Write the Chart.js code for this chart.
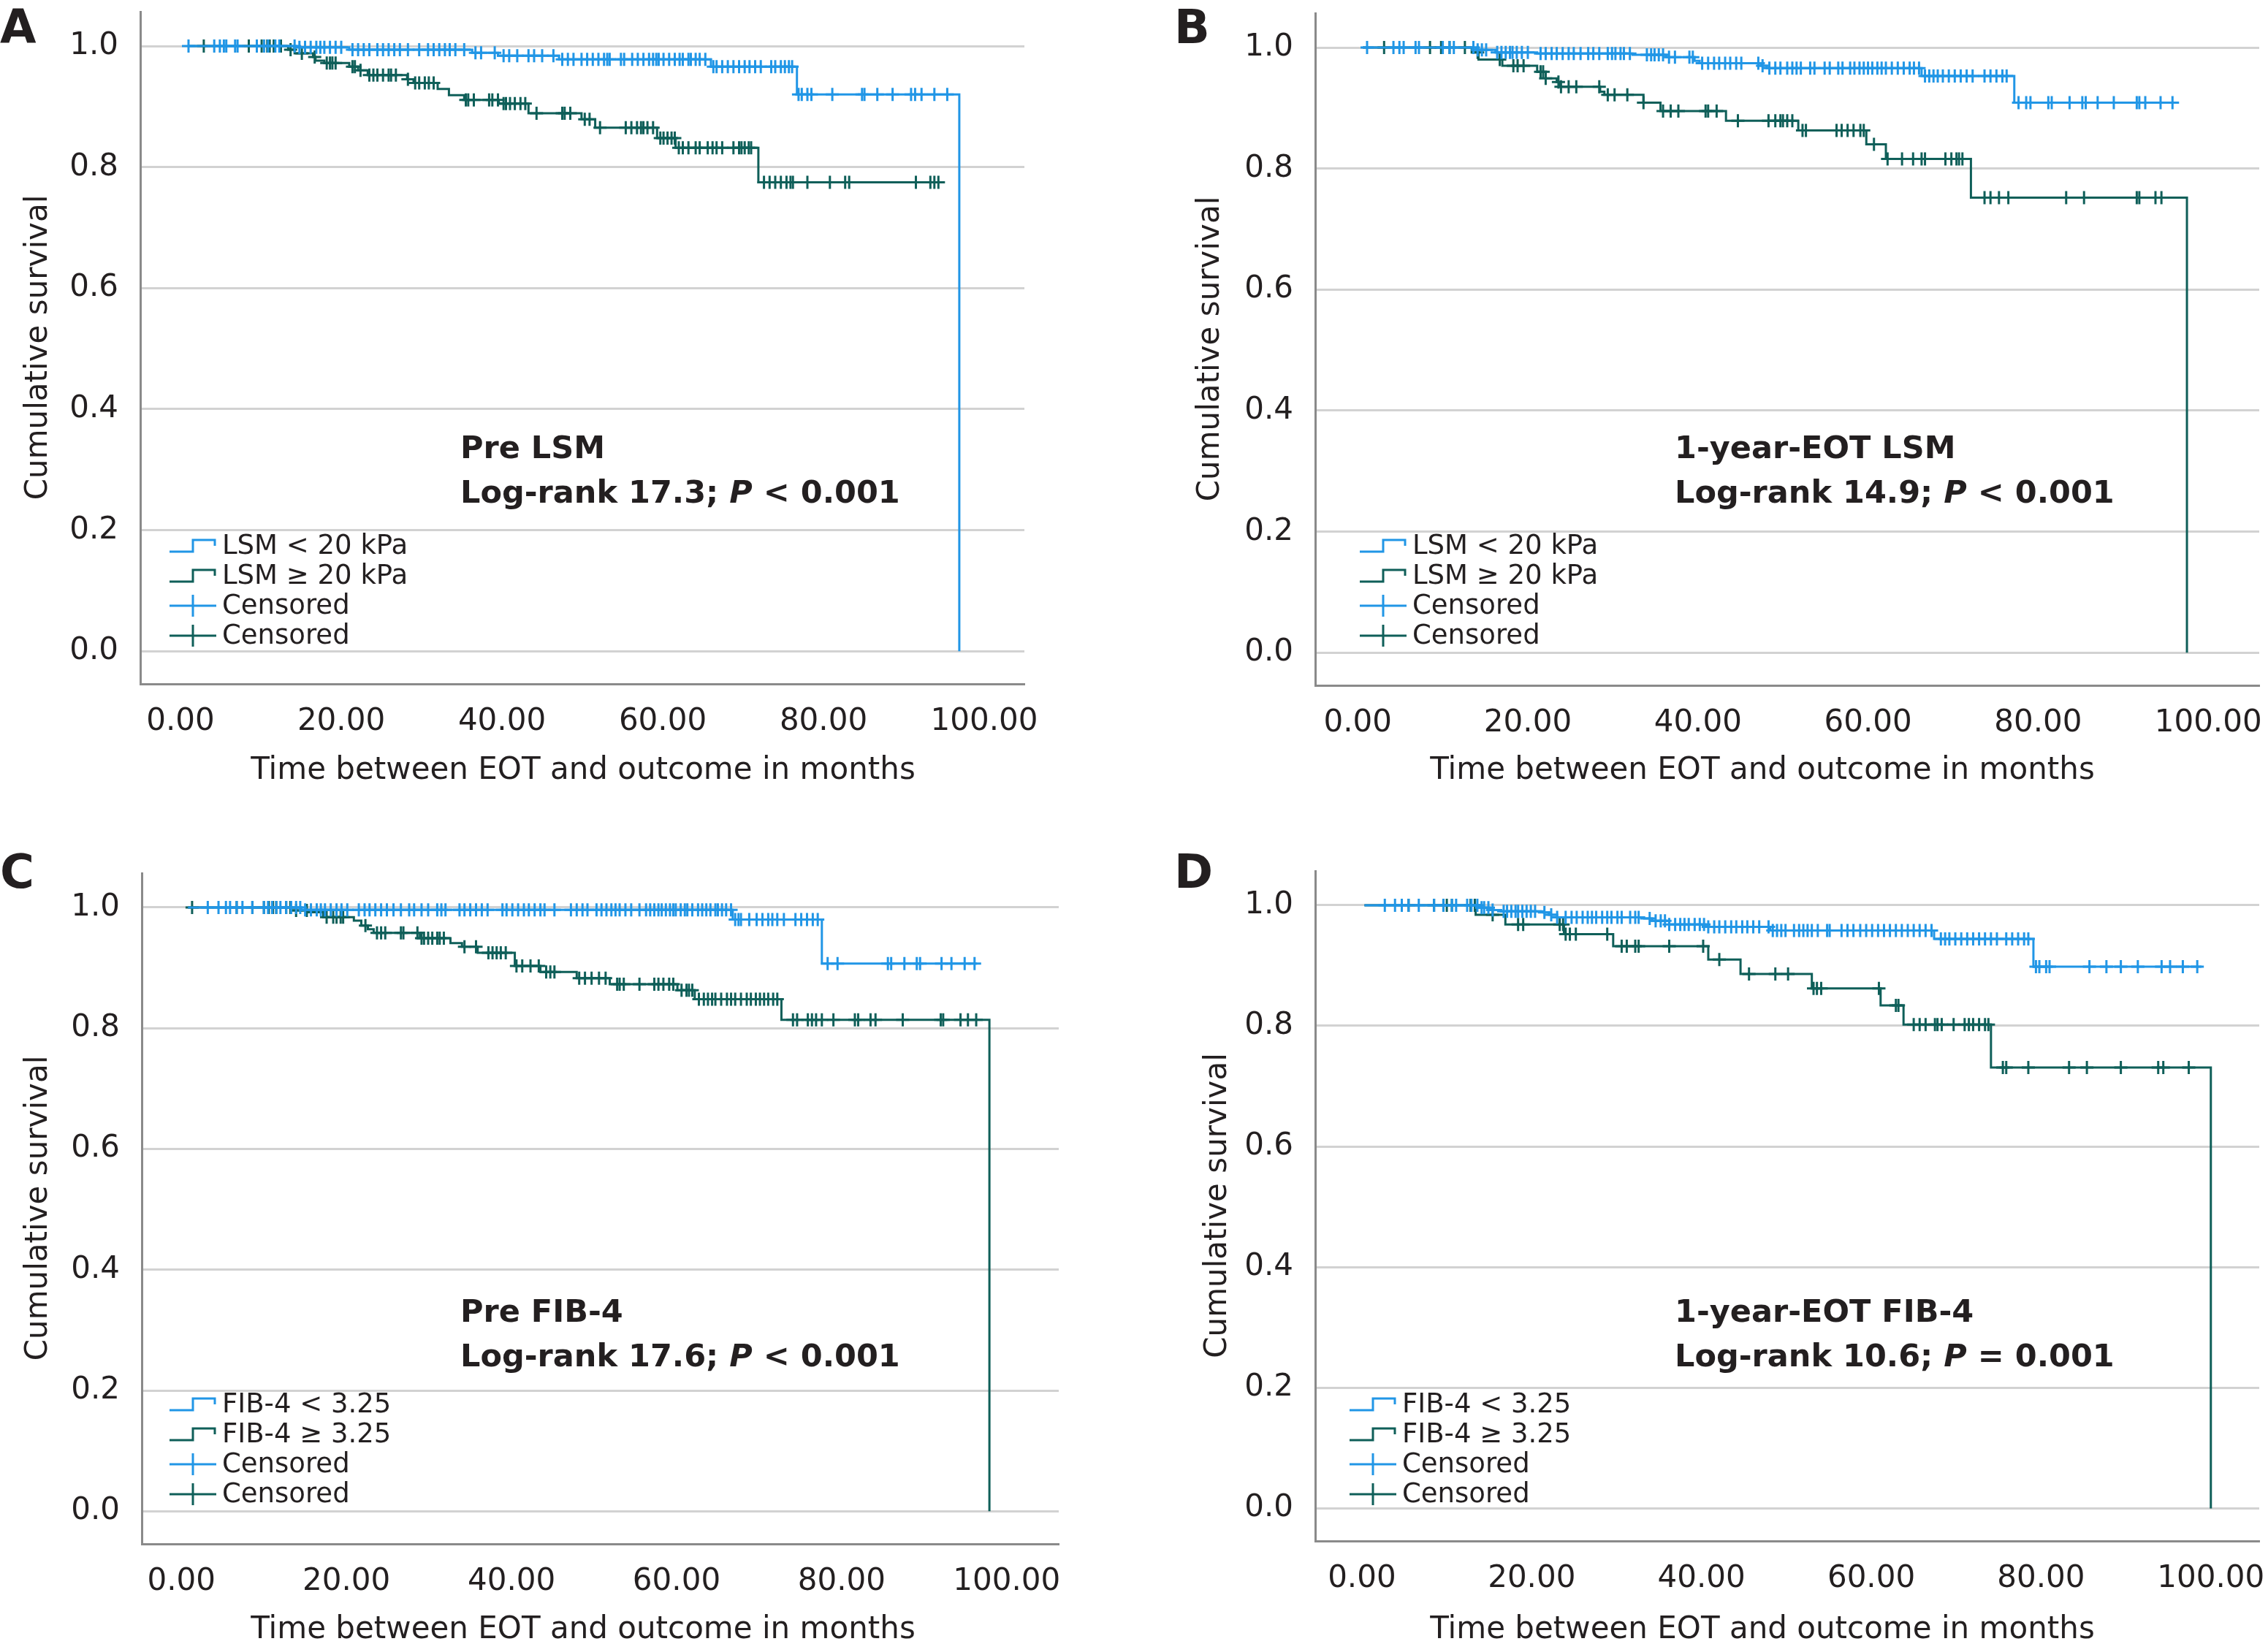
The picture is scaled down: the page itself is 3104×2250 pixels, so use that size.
<!DOCTYPE html>
<html>
<head>
<meta charset="utf-8">
<script src="https://cdn.jsdelivr.net/npm/chart.js@4.4.1/dist/chart.umd.min.js"></script>
<style>
  html, body { margin: 0; padding: 0; background: #fff; width: 3104px; height: 2250px; overflow: hidden; position: relative; }
  canvas { position: absolute; }
  .tag { position: absolute; font: bold 64px "DejaVu Sans"; color: #231f20; line-height: 1; }
</style>
</head>
<body>
<div class="tag" style="left:0px;top:5px">A</div>
<div class="tag" style="left:1607px;top:5px">B</div>
<div class="tag" style="left:0px;top:1161px">C</div>
<div class="tag" style="left:1607px;top:1161px">D</div>
<canvas id="chartA"></canvas>
<canvas id="chartB"></canvas>
<canvas id="chartC"></canvas>
<canvas id="chartD"></canvas>
<script>
// axes
const xTicks = [0, 20, 40, 60, 80, 100];
const yTicks = [0, 0.2, 0.4, 0.6, 0.8, 1.0];
const xTitle = 'Time between EOT and outcome in months';
const yTitle = 'Cumulative survival';

// A: pre LSM  (low = LSM < 20 kPa, high = LSM >= 20 kPa)
const aLowT = [0.9, 14.4, 21.0, 36.3, 39.5, 47.1, 66.0, 76.7, 96.9];
const aLowS = [1.0, 0.998, 0.994, 0.989, 0.984, 0.978, 0.966, 0.920, 0.0];
const aLowC = [1.0, 4.2, 4.9, 5.4, 5.7, 6.8, 7.1, 9.5, 10.4, 10.9, 11.8, 12.3, 14.2, 14.8, 15.5, 16.2, 16.9, 17.4, 17.9, 18.6, 19.3, 20.0, 21.4, 22.1, 22.8, 23.5, 24.5, 25.2, 25.9, 26.6, 27.3, 28.3, 29.7, 30.8, 31.5, 32.2, 32.9, 33.5, 34.2, 35.3, 36.7, 37.4, 39.1, 40.2, 40.9, 41.9, 43.3, 44.0, 45.0, 46.4, 47.5, 48.2, 48.9, 49.9, 50.6, 51.3, 52.0, 52.7, 53.1, 53.4, 54.8, 55.2, 56.2, 56.9, 57.6, 58.3, 58.8, 59.2, 59.5, 60.1, 60.8, 61.5, 62.1, 62.5, 63.2, 63.5, 64.1, 64.6, 65.3, 66.3, 66.7, 67.4, 68.1, 68.8, 69.5, 70.2, 70.8, 71.5, 72.2, 73.5, 74.0, 74.7, 75.2, 75.7, 76.1, 76.9, 77.3, 78.0, 78.5, 81.1, 84.8, 85.1, 86.7, 88.6, 90.9, 91.4, 92.2, 93.8, 95.4];
const aHighT = [0.9, 13.4, 14.2, 16.5, 16.8, 17.9, 21.0, 22.1, 23.3, 28.2, 29.0, 32.0, 33.4, 35.3, 39.6, 43.3, 49.9, 51.6, 59.3, 61.6, 71.9, 94.7];
const aHighS = [1.0, 0.994, 0.988, 0.982, 0.976, 0.972, 0.966, 0.960, 0.952, 0.945, 0.939, 0.929, 0.919, 0.911, 0.905, 0.889, 0.879, 0.865, 0.848, 0.832, 0.775, 0.775];
const aHighC = [2.9, 8.5, 10.1, 10.8, 11.1, 11.6, 12.5, 13.7, 15.1, 16.7, 18.2, 18.6, 18.9, 19.3, 21.4, 21.7, 22.4, 23.5, 24.0, 24.5, 25.2, 25.9, 26.2, 26.8, 28.3, 29.2, 29.7, 30.4, 30.9, 31.5, 35.5, 35.8, 36.5, 38.4, 38.8, 39.5, 40.2, 40.5, 41.0, 41.6, 42.3, 42.9, 44.3, 47.5, 47.8, 48.5, 50.3, 50.9, 52.2, 55.4, 56.1, 56.8, 57.3, 57.6, 58.1, 58.8, 59.7, 60.1, 60.6, 61.1, 61.5, 62.0, 62.5, 63.2, 64.1, 64.6, 65.6, 66.2, 66.7, 67.4, 68.8, 69.5, 69.8, 70.2, 70.7, 71.0, 72.6, 73.3, 74.0, 74.7, 75.4, 75.9, 76.2, 78.0, 80.8, 82.7, 83.2, 91.5, 93.3, 93.8, 94.3];

// B: 1-year-EOT LSM
const bLowT = [0.6, 13.9, 16.2, 21.1, 32.3, 36.3, 39.6, 40.2, 47.4, 48.1, 66.3, 77.2, 96.3];
const bLowS = [1.0, 0.996, 0.992, 0.990, 0.988, 0.984, 0.978, 0.974, 0.970, 0.966, 0.953, 0.909, 0.909];
const bLowC = [1.1, 4.2, 4.9, 5.4, 6.8, 7.2, 10.0, 10.8, 11.3, 13.6, 14.1, 14.6, 15.1, 16.4, 16.9, 17.4, 17.9, 18.2, 18.7, 19.3, 20.0, 21.5, 22.1, 22.8, 23.4, 24.1, 24.8, 25.4, 26.2, 27.1, 27.7, 28.4, 29.4, 29.9, 30.3, 30.9, 31.3, 32.0, 34.0, 34.5, 34.9, 35.4, 35.9, 36.6, 37.3, 39.0, 39.4, 40.5, 41.2, 41.9, 42.5, 43.2, 43.8, 44.5, 45.1, 47.1, 47.6, 48.4, 49.1, 49.7, 50.5, 51.1, 51.6, 52.1, 53.2, 53.7, 54.9, 55.5, 56.5, 57.0, 57.9, 58.4, 59.0, 59.5, 60.0, 60.5, 61.1, 61.6, 62.1, 62.8, 63.5, 64.2, 64.9, 65.4, 66.0, 66.7, 67.2, 67.7, 68.2, 68.8, 69.5, 70.2, 70.9, 71.6, 72.3, 73.7, 74.4, 75.1, 75.8, 76.3, 77.7, 78.6, 79.1, 81.2, 81.6, 83.7, 85.2, 85.6, 87.0, 88.9, 91.6, 91.9, 92.6, 94.4, 95.8];
const bHighT = [0.6, 13.4, 14.2, 17.0, 21.1, 22.1, 23.4, 23.8, 28.5, 29.0, 33.6, 35.6, 43.3, 51.8, 59.8, 62.1, 72.1, 97.5];
const bHighS = [1.0, 0.992, 0.980, 0.970, 0.960, 0.949, 0.943, 0.935, 0.927, 0.922, 0.909, 0.895, 0.879, 0.863, 0.840, 0.816, 0.752, 0.0];
const bHighC = [3.1, 8.5, 9.8, 10.8, 12.6, 14.1, 16.7, 18.3, 18.8, 19.5, 21.5, 21.8, 22.1, 23.6, 23.9, 24.8, 25.7, 28.4, 29.4, 30.2, 31.7, 33.6, 35.9, 36.8, 37.7, 40.9, 41.2, 42.2, 44.7, 48.3, 49.1, 49.7, 50.0, 50.5, 51.1, 52.3, 52.7, 56.3, 56.9, 57.6, 58.3, 59.1, 59.5, 60.7, 62.3, 64.0, 65.3, 66.3, 66.7, 69.1, 69.8, 70.4, 70.7, 71.1, 73.7, 74.4, 75.4, 76.5, 83.3, 85.4, 91.6, 91.9, 93.8, 94.5];

// C: pre FIB-4  (low = FIB-4 < 3.25, high = FIB-4 >= 3.25)
const cLowT = [0.8, 14.5, 66.8, 77.6, 96.4];
const cLowS = [1.0, 0.996, 0.980, 0.907, 0.907];
const cLowC = [3.2, 4.5, 5.4, 5.9, 6.7, 7.4, 8.6, 10.0, 10.5, 11.0, 11.5, 12.0, 12.7, 13.3, 13.9, 14.4, 15.0, 15.7, 16.4, 16.9, 17.4, 18.1, 18.8, 19.4, 20.1, 21.5, 22.2, 22.8, 23.5, 24.2, 24.9, 25.7, 26.6, 27.6, 28.2, 29.1, 29.9, 31.0, 31.5, 32.0, 33.7, 34.3, 35.0, 35.7, 36.4, 37.1, 38.9, 39.4, 40.1, 40.8, 41.5, 42.1, 42.8, 43.5, 44.0, 45.2, 47.2, 47.9, 48.6, 49.2, 50.3, 50.9, 51.5, 52.1, 52.6, 53.1, 53.8, 54.5, 55.5, 56.3, 56.8, 57.3, 57.8, 58.2, 58.7, 59.2, 59.6, 59.9, 60.5, 61.0, 61.3, 61.9, 62.6, 63.1, 63.6, 64.1, 64.7, 65.0, 65.5, 66.0, 66.6, 67.1, 67.5, 67.8, 68.8, 69.7, 70.4, 71.1, 71.6, 72.2, 73.0, 74.4, 75.1, 75.8, 76.5, 77.1, 78.3, 79.5, 85.6, 86.0, 87.6, 89.1, 89.5, 92.1, 93.3, 94.9, 96.1];
const cHighT = [0.8, 13.3, 15.4, 17.2, 20.9, 21.8, 22.6, 23.3, 28.9, 32.6, 34.0, 35.9, 40.4, 43.5, 47.9, 51.9, 60.1, 62.2, 72.7, 97.9];
const cHighS = [1.0, 0.995, 0.992, 0.984, 0.978, 0.970, 0.964, 0.958, 0.949, 0.941, 0.935, 0.925, 0.903, 0.893, 0.883, 0.873, 0.863, 0.848, 0.814, 0.0];
const cHighC = [1.3, 6.7, 8.6, 10.0, 10.6, 11.1, 11.5, 12.7, 13.2, 13.9, 15.2, 17.6, 18.4, 18.8, 19.3, 19.6, 22.3, 23.7, 24.2, 24.7, 26.6, 26.9, 28.6, 29.1, 29.4, 29.9, 30.4, 31.0, 31.3, 31.8, 34.3, 35.7, 37.2, 37.7, 38.2, 38.7, 39.3, 40.6, 41.3, 42.3, 43.3, 44.2, 44.7, 45.2, 48.2, 48.9, 49.7, 50.6, 51.4, 52.8, 53.1, 53.6, 55.5, 57.3, 57.8, 58.4, 59.1, 59.6, 60.6, 61.2, 61.5, 61.9, 62.7, 63.3, 63.8, 64.3, 64.7, 65.4, 66.1, 66.6, 67.1, 67.8, 68.5, 69.0, 69.6, 70.1, 70.6, 71.1, 71.7, 72.2, 74.1, 74.6, 75.9, 76.4, 76.9, 77.6, 79.0, 81.6, 82.0, 83.5, 84.1, 87.4, 92.0, 92.3, 94.4, 95.3, 96.3];

// D: 1-year-EOT FIB-4
const dLowT = [0.3, 13.8, 15.1, 16.4, 21.4, 22.0, 23.0, 32.9, 34.2, 36.2, 40.8, 48.1, 67.4, 79.1, 98.9];
const dLowS = [1.0, 0.996, 0.992, 0.990, 0.988, 0.984, 0.980, 0.978, 0.974, 0.968, 0.964, 0.958, 0.944, 0.898, 0.898];
const dLowC = [2.7, 3.9, 4.7, 5.5, 6.7, 8.5, 9.6, 10.6, 11.1, 12.4, 12.9, 13.6, 14.1, 14.4, 14.9, 15.4, 16.7, 17.1, 17.6, 18.1, 18.4, 18.9, 19.4, 19.9, 20.4, 21.5, 22.3, 23.0, 24.0, 24.7, 25.3, 26.0, 26.6, 27.1, 27.6, 28.3, 28.9, 29.4, 30.1, 30.6, 31.6, 32.2, 32.6, 33.9, 34.6, 35.2, 35.7, 36.2, 36.9, 37.5, 38.0, 38.5, 39.2, 39.8, 40.3, 40.8, 41.5, 42.1, 42.8, 43.5, 44.1, 44.8, 45.4, 46.1, 46.8, 47.9, 48.4, 48.9, 49.4, 49.9, 50.9, 51.5, 52.0, 52.5, 53.0, 53.7, 54.8, 55.1, 56.5, 57.2, 57.9, 58.7, 59.4, 60.1, 60.8, 61.5, 62.2, 62.9, 63.6, 64.3, 65.0, 65.7, 66.4, 67.1, 68.2, 68.7, 69.2, 69.9, 70.6, 71.3, 72.0, 72.7, 73.4, 74.1, 74.8, 75.9, 76.6, 77.3, 78.0, 78.5, 79.4, 79.8, 80.6, 81.0, 85.7, 87.7, 89.4, 91.4, 94.2, 95.2, 96.7, 98.4];
const dHighT = [0.3, 13.4, 16.9, 23.8, 29.6, 40.8, 44.6, 53.0, 61.1, 63.8, 74.1, 100.0];
const dHighS = [1.0, 0.984, 0.968, 0.952, 0.932, 0.910, 0.886, 0.862, 0.834, 0.802, 0.731, 0.0];
const dHighC = [5.5, 8.5, 9.6, 10.0, 10.6, 12.8, 13.3, 15.4, 18.4, 19.0, 23.3, 23.7, 24.0, 24.5, 25.2, 28.9, 30.6, 31.2, 32.2, 32.6, 36.2, 40.2, 42.1, 45.6, 48.7, 50.2, 53.2, 53.6, 54.1, 60.9, 62.9, 63.2, 65.0, 65.7, 66.4, 67.5, 67.8, 68.3, 69.7, 71.0, 71.5, 72.0, 72.7, 73.4, 73.8, 75.5, 75.9, 78.5, 83.3, 85.4, 89.4, 93.8, 94.4, 97.4];

const lsmLabels = ['LSM < 20 kPa', 'LSM \u2265 20 kPa'];
const fibLabels = ['FIB-4 < 3.25', 'FIB-4 \u2265 3.25'];

const BLUE = '#2196e6';
const GREEN = '#0f5f59';
const TEXT = '#231f20';
const FONT = '"DejaVu Sans", Verdana, sans-serif';

// level of a step function at time t
function levelAt(T, S, t) {
  let v = S[0];
  for (let i = 0; i < T.length; i++) { if (T[i] <= t) v = S[i]; }
  return v;
}

const overlay = {
  id: 'overlay',
  afterDraw(chart, args, o) {
    const ctx = chart.ctx;
    const ox = o.origin[0], oy = o.origin[1];
    ctx.save();
    ctx.fillStyle = TEXT;
    ctx.textBaseline = 'middle';
    // x axis title (SPSS centres it a little left of the plot for some panels)
    ctx.textAlign = 'center';
    ctx.font = '42px ' + FONT;
    ctx.fillText(xTitle, o.xTitle[0] - ox, o.xTitle[1] - oy);
    ctx.textAlign = 'left';
    // log-rank note
    const nx = o.note[0] - ox, ny = o.note[1] - oy;
    ctx.font = 'bold 43px ' + FONT;
    ctx.fillText(o.noteTitle, nx, ny);
    let x = nx;
    const parts = [['Log-rank ' + o.stat + '; ', 'bold'], ['P', 'italic bold'], [' ' + o.rel + ' 0.001', 'bold']];
    parts.forEach(([s, w]) => {
      ctx.font = w + ' 43px ' + FONT;
      ctx.fillText(s, x, ny + 61);
      x += ctx.measureText(s).width;
    });
    // legend
    const lx = o.legend[0] - ox, ly = o.legend[1] - oy;
    const items = [['step', BLUE, o.labels[0]], ['step', GREEN, o.labels[1]], ['cross', BLUE, 'Censored'], ['cross', GREEN, 'Censored']];
    ctx.lineWidth = 3;
    items.forEach(([kind, color, label], i) => {
      const yc = ly + i * 41;
      ctx.strokeStyle = color;
      ctx.beginPath();
      if (kind === 'step') {
        ctx.moveTo(lx, yc + 8); ctx.lineTo(lx + 32, yc + 8); ctx.lineTo(lx + 32, yc - 8);
        ctx.lineTo(lx + 62, yc - 8); ctx.lineTo(lx + 62, yc);
      } else {
        ctx.moveTo(lx, yc); ctx.lineTo(lx + 64, yc);
        ctx.moveTo(lx + 32, yc - 15); ctx.lineTo(lx + 32, yc + 15);
      }
      ctx.stroke();
      ctx.fillStyle = TEXT;
      ctx.font = '37px ' + FONT;
      ctx.fillText(label, lx + 72, yc + 1);
    });
    ctx.restore();
  }
};

function makePanel(id, p) {
  const [aL, aT, aR, aB] = p.area;
  const cL = p.yTitleX - 25;
  const cB = p.xTitle[1] + 30;
  const padR = 70;
  const yW = aL - cL;
  const xH = cB - aB;
  const canvas = document.getElementById(id);
  canvas.width = aR - cL + padR;
  canvas.height = cB - aT;
  canvas.style.left = cL + 'px';
  canvas.style.top = aT + 'px';

  const stepSet = (T, S, color) => ({
    type: 'line', data: T.map((t, i) => ({ x: t, y: S[i] })), borderColor: color,
    borderWidth: 3, pointRadius: 0, stepped: 'before', fill: false, showLine: true
  });
  const censSet = (T, S, C, color) => ({
    type: 'scatter', data: C.map(t => ({ x: t, y: levelAt(T, S, t) })), borderColor: color,
    backgroundColor: color, pointStyle: 'cross', pointRadius: 9, borderWidth: 3, showLine: false
  });

  new Chart(canvas, {
    type: 'scatter',
    data: {
      datasets: [
        censSet(p.lowT, p.lowS, p.lowC, BLUE),
        stepSet(p.lowT, p.lowS, BLUE),
        censSet(p.highT, p.highS, p.highC, GREEN),
        stepSet(p.highT, p.highS, GREEN)
      ]
    },
    options: {
      responsive: false,
      animation: false,
      devicePixelRatio: 1,
      layout: { padding: { left: 0, top: 0, right: padR, bottom: 0 }, autoPadding: false },
      plugins: {
        legend: { display: false },
        tooltip: { enabled: false },
        overlay: {
          origin: [cL, aT], note: p.note, noteTitle: p.noteTitle, stat: p.stat, rel: p.rel,
          legend: p.legend, labels: p.labels, xTitle: p.xTitle
        }
      },
      scales: {
        x: {
          type: 'linear', min: p.xMin, max: p.xMax,
          grid: { display: false, drawTicks: false },
          border: { display: true, color: '#8a8a8a', width: 3 },
          afterBuildTicks: s => { s.ticks = xTicks.map(v => ({ value: v })); },
          afterFit: s => { s.height = xH; s.paddingLeft = 0; s.paddingRight = 0; },
          ticks: { callback: v => v.toFixed(2), font: { family: FONT, size: 42 }, color: TEXT, padding: 27, maxRotation: 0, autoSkip: false }
        },
        y: {
          type: 'linear', min: -0.054, max: 1.058,
          grid: { color: '#d2d2d2', lineWidth: 3, drawTicks: false },
          border: { display: true, color: '#8a8a8a', width: 3 },
          afterBuildTicks: s => { s.ticks = yTicks.map(v => ({ value: v })); },
          afterFit: s => { s.width = yW; s.paddingTop = 0; s.paddingBottom = 0; },
          ticks: { callback: v => v.toFixed(1), font: { family: FONT, size: 42 }, color: TEXT, padding: 30 },
          title: { display: true, text: yTitle, font: { family: FONT, size: 42 }, color: TEXT, padding: 0 }
        }
      }
    },
    plugins: [overlay]
  });
}

makePanel('chartA', {
  area: [192, 15, 1402, 936], yTitleX: 53, xTitle: [798, 1055], xMin: -5, xMax: 105,
  lowT: aLowT, lowS: aLowS, lowC: aLowC, highT: aHighT, highS: aHighS, highC: aHighC,
  labels: lsmLabels, legend: [232, 747], note: [630, 616], noteTitle: 'Pre LSM', stat: '17.3', rel: '<'
});
makePanel('chartB', {
  area: [1800, 17, 3092, 938], yTitleX: 1657, xTitle: [2412, 1055], xMin: -5, xMax: 106,
  lowT: bLowT, lowS: bLowS, lowC: bLowC, highT: bHighT, highS: bHighS, highC: bHighC,
  labels: lsmLabels, legend: [1861, 747], note: [2292, 616], noteTitle: '1-year-EOT LSM', stat: '14.9', rel: '<'
});
makePanel('chartC', {
  area: [194, 1194, 1449, 2113], yTitleX: 53, xTitle: [798, 2231], xMin: -4.8, xMax: 106.3,
  lowT: cLowT, lowS: cLowS, lowC: cLowC, highT: cHighT, highS: cHighS, highC: cHighC,
  labels: fibLabels, legend: [232, 1922], note: [630, 1798], noteTitle: 'Pre FIB-4', stat: '17.6', rel: '<'
});
makePanel('chartD', {
  area: [1800, 1191, 3092, 2109], yTitleX: 1667, xTitle: [2412, 2231], xMin: -5.5, xMax: 105.7,
  lowT: dLowT, lowS: dLowS, lowC: dLowC, highT: dHighT, highS: dHighS, highC: dHighC,
  labels: fibLabels, legend: [1847, 1922], note: [2292, 1798], noteTitle: '1-year-EOT FIB-4', stat: '10.6', rel: '='
});
</script>
</body>
</html>
